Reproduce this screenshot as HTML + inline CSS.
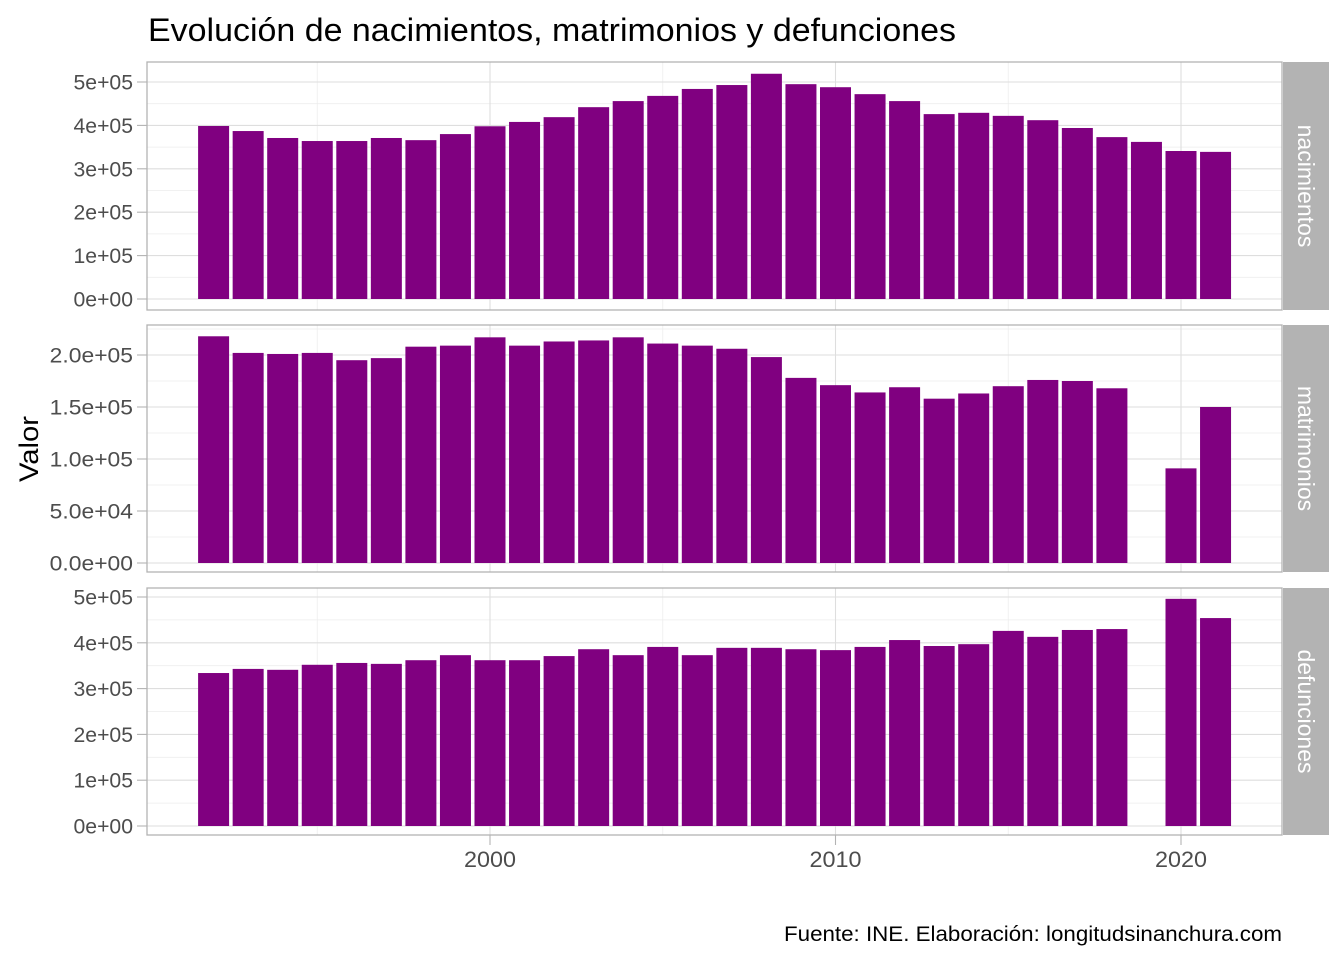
<!DOCTYPE html>
<html><head><meta charset="utf-8"><style>
body{margin:0;background:#fff;}
svg{display:block;font-family:"Liberation Sans",Arial,sans-serif;}
</style></head><body>
<svg id="chart" width="1344" height="960">
<text x="148" y="41" font-size="32" textLength="808" lengthAdjust="spacingAndGlyphs" fill="#000">Evolución de nacimientos, matrimonios y defunciones</text>
<text x="38" y="449" font-size="27" fill="#000" transform="rotate(-90 38 449)" text-anchor="middle" textLength="66" lengthAdjust="spacingAndGlyphs">Valor</text>
<text x="784" y="941" font-size="21" textLength="498" lengthAdjust="spacingAndGlyphs" fill="#000">Fuente: INE. Elaboración: longitudsinanchura.com</text>
<g id="plot"></g>
</svg>
<script>
const years = [1992,1993,1994,1995,1996,1997,1998,1999,2000,2001,2002,2003,2004,2005,2006,2007,2008,2009,2010,2011,2012,2013,2014,2015,2016,2017,2018,2019,2020,2021];
const nacimientos = [398600,387000,371000,364000,364000,371000,366000,380000,398000,408000,419000,442000,456000,468000,484000,493000,519000,495000,488000,472000,456000,426000,429000,422000,412000,394000,373000,362000,341000,339000];
const matrimonios = [218000,202000,201000,202000,195000,197000,208000,209000,217000,209000,213000,214000,217000,211000,209000,206000,198000,178000,171000,164000,169000,158000,163000,170000,176000,175000,168000,null,91000,150000];
const defunciones = [334000,343000,341000,352000,356000,354000,362000,373000,362000,362000,371000,386000,373000,391000,373000,389000,389000,386000,384000,391000,406000,393000,397000,426000,413000,428000,430000,null,496000,454000];
const xTicks = [2000,2010,2020];
const ticksA = [0,100000,200000,300000,400000,500000];
const labelsA = ["0e+00","1e+05","2e+05","3e+05","4e+05","5e+05"];
const ticksB = [0,50000,100000,150000,200000];
const labelsB = ["0.0e+00","5.0e+04","1.0e+05","1.5e+05","2.0e+05"];

const NS="http://www.w3.org/2000/svg";
const g=document.getElementById('plot');
const PX0=147,PX1=1282;
const xs=y=>490+(y-2000)*34.55;
function el(t,a,parent){const e=document.createElementNS(NS,t);for(const k in a)e.setAttribute(k,a[k]);(parent||g).appendChild(e);return e;}

const panels=[
 {name:'nacimientos',vals:nacimientos,top:62,bot:310,y0:299,ymax:500000,ypx:82,ticks:ticksA,labels:labelsA},
 {name:'matrimonios',vals:matrimonios,top:325,bot:572,y0:563,ymax:200000,ypx:355,ticks:ticksB,labels:labelsB},
 {name:'defunciones',vals:defunciones,top:588,bot:835,y0:826,ymax:500000,ypx:597,ticks:ticksA,labels:labelsA}
];
panels.forEach(p=>{
 const ys=v=>p.y0-(v/p.ymax)*(p.y0-p.ypx);
 const pg=el('g',{});
 
 
 for(let i=0;i<p.ticks.length-1;i++){const v=(p.ticks[i]+p.ticks[i+1])/2;const y=ys(v);
  el('line',{x1:PX0,x2:PX1,y1:y,y2:y,stroke:'#ededed','stroke-width':0.8},pg);}
 const topMinor=p.ticks[p.ticks.length-1]+(p.ticks[1]-p.ticks[0])/2;
 if(ys(topMinor)>p.top) el('line',{x1:PX0,x2:PX1,y1:ys(topMinor),y2:ys(topMinor),stroke:'#ededed','stroke-width':0.8},pg);
 [1995,2005,2015].forEach(v=>el('line',{x1:xs(v),x2:xs(v),y1:p.top,y2:p.bot,stroke:'#ededed','stroke-width':0.8},pg));
 p.ticks.forEach((v,i)=>{const y=ys(v);
  el('line',{x1:PX0,x2:PX1,y1:y,y2:y,stroke:'#dedede','stroke-width':1.1},pg);
  el('line',{x1:137,x2:PX0,y1:y,y2:y,stroke:'#b3b3b3','stroke-width':1.1},pg);
  const t=el('text',{x:133,y:y+7.5,'font-size':21,fill:'#4d4d4d','text-anchor':'end',textLength:p.labels[i].length*11.9,lengthAdjust:'spacingAndGlyphs'},pg);
  t.textContent=p.labels[i];
  
  
 });
 xTicks.forEach(v=>el('line',{x1:xs(v),x2:xs(v),y1:p.top,y2:p.bot,stroke:'#dedede','stroke-width':1.1},pg));
 years.forEach((yr,i)=>{const v=p.vals[i];if(v==null)return;
  const b=el('rect',{x:xs(yr)-15.5,y:ys(v),width:31,height:p.y0-ys(v),fill:'#800080'},pg);
  
  
 });
 el('rect',{x:PX0,y:p.top,width:PX1-PX0,height:p.bot-p.top,fill:'none',stroke:'#b3b3b3','stroke-width':1.3},pg);
 const s=el('rect',{x:1283,y:p.top,width:46,height:p.bot-p.top,fill:'#b3b3b3'},pg);
 
 
 const cy=(p.top+p.bot)/2;
 const st=el('text',{x:1306,y:cy,'font-size':23,fill:'#fff','text-anchor':'middle','dominant-baseline':'central',transform:`rotate(90 1306 ${cy})`},pg);
 st.textContent=p.name;
 
 
});
xTicks.forEach(v=>{
 el('line',{x1:xs(v),x2:xs(v),y1:835,y2:845,stroke:'#b3b3b3','stroke-width':1.1});
 const t=el('text',{x:xs(v),y:867,'font-size':22,fill:'#4d4d4d','text-anchor':'middle',textLength:52,lengthAdjust:'spacingAndGlyphs'});
 t.textContent=v;
 
 
});
</script>
</body></html>
